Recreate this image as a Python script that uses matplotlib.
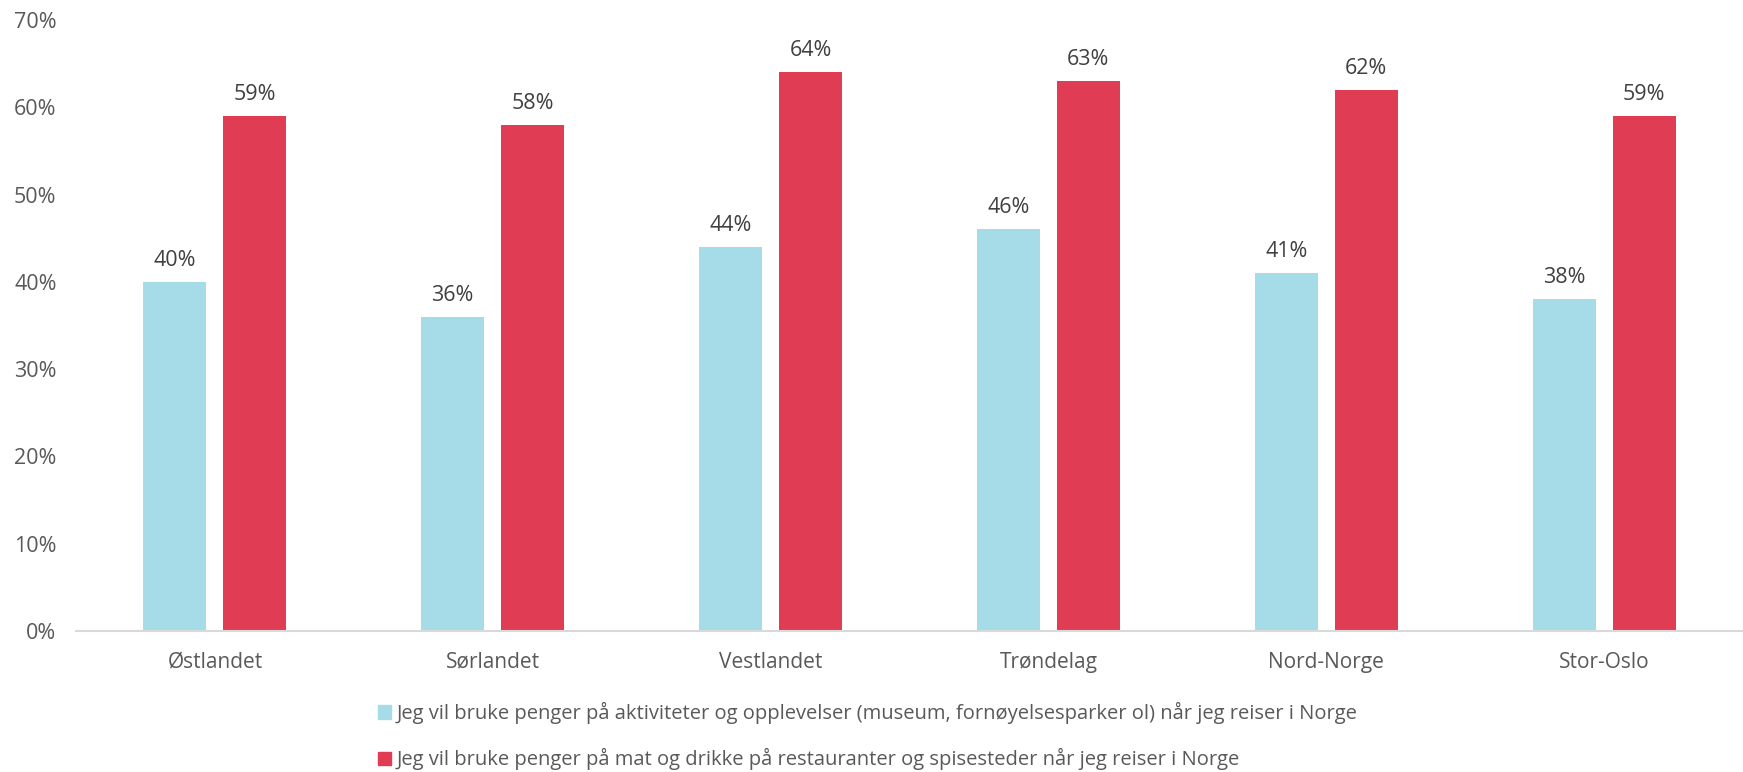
import numpy as np
import matplotlib.pyplot as plt
from matplotlib.patches import Patch

plt.rcParams['font.family'] = ['Open Sans', 'DejaVu Sans']

regions = ["Østlandet", "Sørlandet", "Vestlandet", "Trøndelag", "Nord-Norge", "Stor-Oslo"]
aktiviteter = [40, 36, 44, 46, 41, 38]
mat_drikke = [59, 58, 64, 63, 62, 59]
series_names = [
    "Jeg vil bruke penger på aktiviteter og opplevelser (museum, fornøyelsesparker ol) når jeg reiser i Norge",
    "Jeg vil bruke penger på mat og drikke på restauranter og spisesteder når jeg reiser i Norge",
]

cyan = "#A5DCE8"
red = "#E03C53"
grey = "#595959"

fig = plt.figure(figsize=(17.43, 7.72), dpi=100)
ax = fig.add_axes([76 / 1743, 141 / 772, 1 - 76 / 1743, 611 / 772])

x = np.arange(len(regions))
w = 0.227
off = 0.144
b1 = ax.bar(x - off, aktiviteter, w, color=cyan)
b2 = ax.bar(x + off, mat_drikke, w, color=red)

for bars, vals in [(b1, aktiviteter), (b2, mat_drikke)]:
    for b, v in zip(bars, vals):
        ax.annotate(f"{v}%", (b.get_x() + b.get_width() / 2, v), xytext=(0, 8),
                    textcoords="offset points", ha="center", va="bottom",
                    fontsize=15.5, color="#404040")

ax.set_xlim(-0.5, len(regions) - 0.5)
ax.set_ylim(0, 70)
ax.set_yticks(range(0, 71, 10))
ax.set_yticklabels([f"{t}%" for t in range(0, 71, 10)])
ax.set_xticks(x)
ax.set_xticklabels(regions)
ax.tick_params(length=0, labelcolor=grey)
ax.tick_params(axis="y", pad=14, labelsize=15.5)
ax.tick_params(axis="x", pad=15, labelsize=15)
for s in ["top", "right", "left"]:
    ax.spines[s].set_visible(False)
ax.spines["bottom"].set_color("#D9D9D9")
ax.spines["bottom"].set_linewidth(1.5)

handles = [Patch(color=cyan), Patch(color=red)]
fig.legend(handles, series_names, loc="upper left", bbox_to_anchor=(370 / 1743, 1 - 694 / 772),
           frameon=False, fontsize=14.5, labelcolor=grey, handlelength=0.65, handleheight=0.65,
           handletextpad=0.25, labelspacing=1.2, borderaxespad=0)

fig.savefig("out.png", dpi=100)
